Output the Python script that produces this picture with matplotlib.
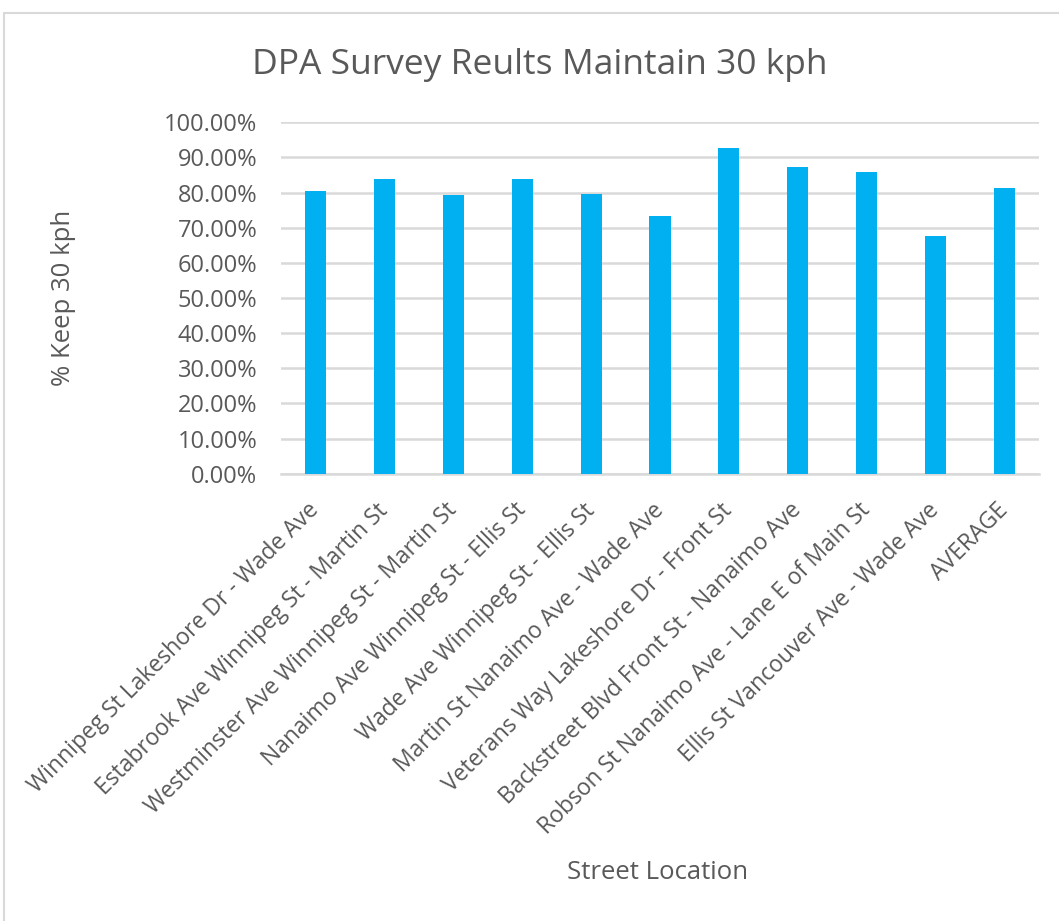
import matplotlib
matplotlib.use("Agg")
import matplotlib.pyplot as plt
from matplotlib.ticker import FuncFormatter, MultipleLocator
from matplotlib.patches import Rectangle

locations = [
    "Winnipeg St Lakeshore Dr - Wade Ave",
    "Estabrook Ave Winnipeg St - Martin St",
    "Westminster Ave Winnipeg St - Martin St",
    "Nanaimo Ave Winnipeg St - Ellis St",
    "Wade Ave Winnipeg St - Ellis St",
    "Martin St Nanaimo Ave - Wade Ave",
    "Veterans Way Lakeshore Dr - Front St",
    "Backstreet Blvd Front St - Nanaimo Ave",
    "Robson St Nanaimo Ave - Lane E of Main St",
    "Ellis St Vancouver Ave - Wade Ave",
    "AVERAGE",
]
keep_30 = [0.805, 0.838, 0.793, 0.838, 0.797, 0.732, 0.926, 0.874, 0.859, 0.676, 0.814]

title = "DPA Survey Reults Maintain 30 kph"
ylabel = "% Keep 30 kph"
xlabel = "Street Location"

TXT = "#595959"
plt.rcParams['font.family'] = ['Open Sans', 'DejaVu Sans']

fig = plt.figure(figsize=(10.59, 9.21), dpi=100)
fig.patches.append(Rectangle((4/1059, -0.01), 1.1, 1 - 13/921 + 0.01, transform=fig.transFigure,
                             fill=False, edgecolor="#d9d9d9", linewidth=1.5))

ax = fig.add_axes([281/1059, 1 - 473.7/921, 758/1059, 351.4/921])
x = list(range(len(locations)))
ax.bar(x, keep_30, width=0.305, color="#00B0F0", zorder=3)
ax.set_xlim(-0.5, len(locations) - 0.5)
ax.set_ylim(0, 1.0)
ax.yaxis.set_major_locator(MultipleLocator(0.1))
ax.yaxis.set_major_formatter(FuncFormatter(lambda v, p: f"{v*100:.2f}%"))
ax.grid(axis='y', color="#d9d9d9", linewidth=1.8, zorder=0)
ax.set_axisbelow(True)
for s in ['top', 'right', 'left']:
    ax.spines[s].set_visible(False)
ax.spines['bottom'].set_color("#d9d9d9")
ax.spines['bottom'].set_linewidth(1.8)
ax.tick_params(axis='both', length=0, colors=TXT)
ax.tick_params(axis='y', pad=17, labelsize=17)
ax.set_xticks(x)
ax.set_xticklabels(locations, rotation=45, ha='right', va='center', rotation_mode='anchor', fontsize=16.5)
ax.tick_params(axis='x', pad=24)

fig.text(540/1059, 1 - 65/921, title, ha='center', va='center', fontsize=25.5, color=TXT)
fig.text(64/1059, 1 - 298/921, ylabel, ha='center', va='center', rotation=90, fontsize=18.5, color=TXT)
fig.text(658/1059, 1 - 872/921, xlabel, ha='center', va='center', fontsize=18.5, color=TXT)

fig.savefig("out.png", dpi=100, facecolor="white")
